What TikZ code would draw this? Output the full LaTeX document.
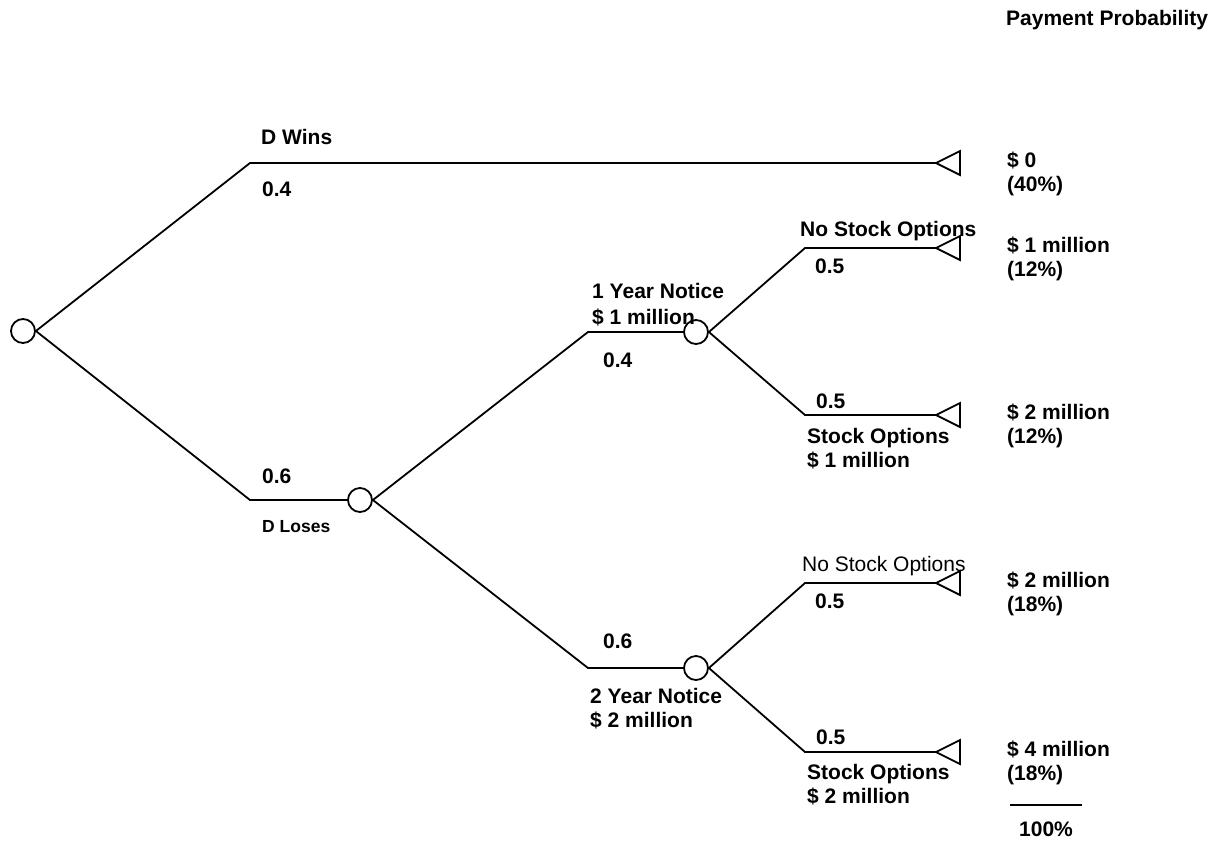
\documentclass[tikz,border=0pt]{standalone}
\usepackage{fontspec}
\setmainfont{Liberation Sans}
\begin{document}
\begin{tikzpicture}[x=1pt,y=-1pt,
  branch/.style={line width=1.8pt, line join=miter},
  chance/.style={circle, draw, line width=1.8pt, minimum size=24pt, inner sep=0pt, fill=white},
  lbl/.style={anchor=base west, inner sep=0pt, font=\fontsize{21}{24}\selectfont\bfseries},
  lblplain/.style={anchor=base west, inner sep=0pt, font=\fontsize{21}{24}\selectfont},
  lblsmall/.style={anchor=base west, inner sep=0pt, font=\fontsize{17.5}{20}\selectfont\bfseries}]
\useasboundingbox (0,0) rectangle (1228,844);

% chance nodes
\node[chance] (r) at (23,331) {};
\node[chance] (a) at (360,500) {};
\node[chance] (b) at (696,332) {};
\node[chance] (c) at (696,668) {};

% branch corners
\coordinate (w1) at (250,163);
\coordinate (l1) at (250,500);
\coordinate (y1) at (588,332);
\coordinate (y2) at (588,668);
\coordinate (b1) at (805,248);
\coordinate (b2) at (805,415);
\coordinate (c1) at (805,583);
\coordinate (c2) at (805,752);

% end points (triangle tips)
\coordinate (t0) at (936,163);
\coordinate (t1) at (936,248);
\coordinate (t2) at (936,415);
\coordinate (t3) at (936,583);
\coordinate (t4) at (936,752);

% branches
\draw[branch] (r.east) -- (w1) -- (t0);
\draw[branch] (r.east) -- (l1) -- (a.west);
\draw[branch] (a.east) -- (y1) -- (b.west);
\draw[branch] (a.east) -- (y2) -- (c.west);
\draw[branch] (b.east) -- (b1) -- (t1);
\draw[branch] (b.east) -- (b2) -- (t2);
\draw[branch] (c.east) -- (c1) -- (t3);
\draw[branch] (c.east) -- (c2) -- (t4);

% terminal triangles
\foreach \t in {t0,t1,t2,t3,t4}
  \draw[branch] (\t) -- ++(24,-12) -- ++(0,24) -- cycle;

% header
\node[lbl] (hdr) at (1006,25) {Payment Probability};

% branch labels
\node[lbl] (dw) at (261,144) {D Wins};
\node[lbl] (p04a) at (262,196) {0.4};
\node[lbl] (p06a) at (262,483) {0.6};
\node[lblsmall] (dl) at (262,532) {D Loses};

\node[lbl] (yn1) at (592,298) {1 Year Notice};
\node[lbl] (yn1v) at (592,324) {\$ 1 million};
\node[lbl] (p04b) at (603,367) {0.4};

\node[lbl] (p06b) at (603,648) {0.6};
\node[lbl] (yn2) at (590,703) {2 Year Notice};
\node[lbl] (yn2v) at (590,727) {\$ 2 million};

\node[lbl] (ns1) at (800,236) {No Stock Options};
\node[lbl] (p05a) at (815,273) {0.5};
\node[lbl] (p05b) at (816,408) {0.5};
\node[lbl] (so1) at (807,443) {Stock Options};
\node[lbl] (so1v) at (807,467) {\$ 1 million};

\node[lblplain] (ns2) at (802,571) {No Stock Options};
\node[lbl] (p05c) at (815,608) {0.5};
\node[lbl] (p05d) at (816,744) {0.5};
\node[lbl] (so2) at (807,779) {Stock Options};
\node[lbl] (so2v) at (807,803) {\$ 2 million};

% payments and probabilities
\node[lbl] (v0) at (1007,167) {\$ 0};
\node[lbl] (q0) at (1007,191) {(40\%)};
\node[lbl] (v1) at (1007,252) {\$ 1 million};
\node[lbl] (q1) at (1007,276) {(12\%)};
\node[lbl] (v2) at (1007,419) {\$ 2 million};
\node[lbl] (q2) at (1007,443) {(12\%)};
\node[lbl] (v3) at (1007,587) {\$ 2 million};
\node[lbl] (q3) at (1007,611) {(18\%)};
\node[lbl] (v4) at (1007,756) {\$ 4 million};
\node[lbl] (q4) at (1007,780) {(18\%)};

% total
\coordinate (s1) at (1010,805);
\coordinate (s2) at (1082,805);
\draw[line width=1.5pt] (s1) -- (s2);
\node[lbl] (tot) at (1019,836) {100\%};
\end{tikzpicture}
\end{document}
